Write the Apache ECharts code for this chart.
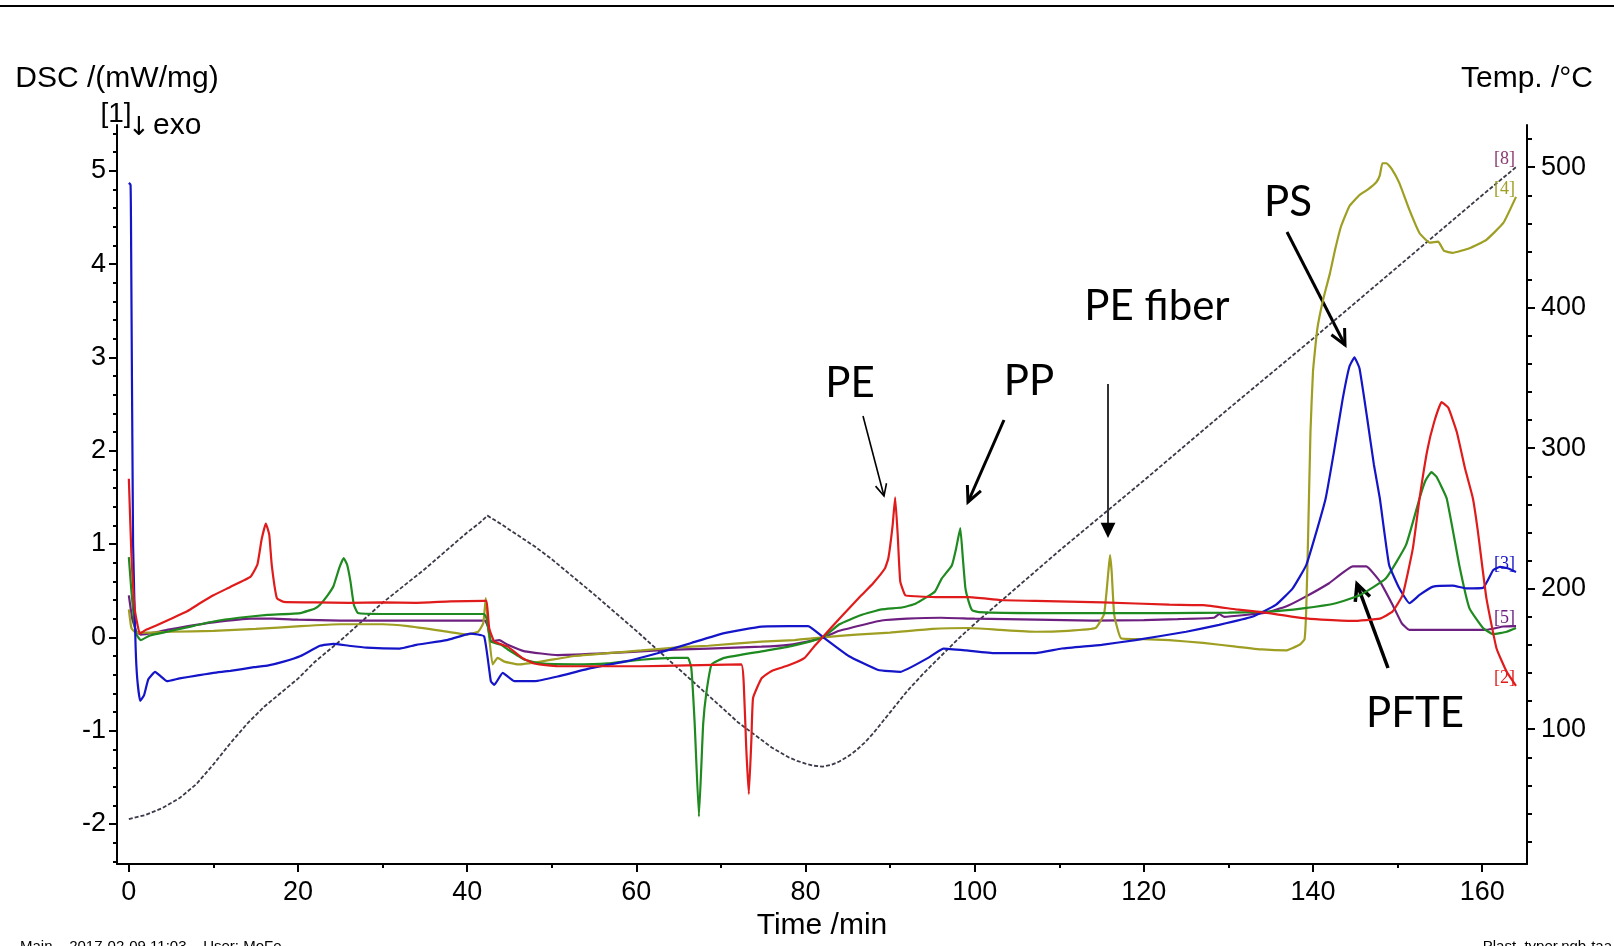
<!DOCTYPE html>
<html>
<head>
<meta charset="utf-8">
<title>DSC plastics</title>
<script src="https://cdn.jsdelivr.net/npm/echarts@6.0.0/dist/echarts.min.js"></script>
<style>
  html, body { margin: 0; padding: 0; background: #fff; }
  #chart { width: 1614px; height: 946px; }
</style>
</head>
<body>
<div id="chart"></div>
<script>
// axis ticks and labels
const timeLabels = [0, 20, 40, 60, 80, 100, 120, 140, 160]
const timeMinor = [10, 30, 50, 70, 90, 110, 130, 150]
const dscLabels = [-2, -1, 0, 1, 2, 3, 4, 5]
const tempLabels = [100, 200, 300, 400, 500]

const dscMinor = []
for (let i = -12; i <= 27; i++) if (i % 5 !== 0) dscMinor.push(Math.round(i * 2) / 10)
const tempMinor = []
for (let v = 20; v <= 520; v += 20) if (v % 100 !== 0) tempMinor.push(v)

// DSC curves, [time /min, DSC /(mW/mg)]
const sample2Red = [
  [0, 1.7], [0.3, 0.9], [0.7, 0.3], [1.3, 0.04], [2, 0.08], [3.3, 0.13], [5, 0.2], [6.9, 0.28],
  [8.5, 0.37], [10, 0.45], [12, 0.54], [14.4, 0.65], [15.2, 0.78], [15.7, 1.05], [16.2, 1.22],
  [16.6, 1.1], [16.9, 0.77], [17.5, 0.42], [18.3, 0.38], [22, 0.375], [26, 0.37], [30, 0.375],
  [34, 0.37], [38, 0.385], [42, 0.39], [42.3, 0.39], [42.6, 0.1], [43.2, -0.045], [44.8, -0.1],
  [46.5, -0.22], [47.9, -0.28], [50.7, -0.31], [55, -0.31], [60.6, -0.31], [66, -0.3], [72.4, -0.29],
  [72.7, -0.5], [73.0, -1.2], [73.3, -1.68], [73.6, -1.1], [73.8, -0.65], [74.8, -0.44], [76, -0.36],
  [78, -0.3], [79.9, -0.22], [81, -0.1], [82.1, 0.01], [84, 0.2], [86.6, 0.45], [88, 0.58],
  [89.4, 0.74], [89.8, 0.85], [90.3, 1.2], [90.6, 1.5], [90.9, 1.1], [91.2, 0.6], [91.8, 0.45],
  [93, 0.44], [96, 0.43], [99.3, 0.43], [103, 0.4], [107.2, 0.39], [115.1, 0.375], [123, 0.35],
  [127, 0.345], [130.9, 0.3], [134.8, 0.26], [138.8, 0.205], [141, 0.19], [144.7, 0.176],
  [147.9, 0.2], [149.4, 0.276], [150.6, 0.454], [151.8, 0.95], [152.6, 1.49], [153.5, 2.0],
  [154.3, 2.3], [155.2, 2.52], [156, 2.46], [157, 2.2], [158, 1.8], [158.9, 1.49], [159.5, 1.13],
  [160.5, 0.42], [161.7, -0.12], [162.9, -0.37], [164, -0.52]
]

const sampleGreen = [
  [0, 0.86], [0.3, 0.5], [0.8, 0.05], [1.4, -0.03], [2.5, 0.02], [4.5, 0.06], [7, 0.11], [10, 0.17],
  [13, 0.21], [16.4, 0.24], [20.3, 0.26], [22, 0.31], [22.6, 0.35], [23.5, 0.45], [24.2, 0.55],
  [24.9, 0.75], [25.4, 0.85], [25.8, 0.78], [26.2, 0.6], [26.6, 0.35], [27.1, 0.26], [30, 0.25],
  [35, 0.25], [40, 0.25], [42, 0.25], [42.3, 0.2], [42.8, -0.045], [44, -0.08], [44.8, -0.13],
  [46.8, -0.24], [48.7, -0.28], [52.7, -0.29], [56.6, -0.28], [60.6, -0.24], [64.5, -0.22],
  [66.1, -0.22], [66.5, -0.33], [66.9, -0.93], [67.4, -1.92], [67.9, -0.93], [68.3, -0.58],
  [68.9, -0.29], [70.4, -0.22], [74.8, -0.15], [78, -0.1], [80.7, -0.04], [82.1, 0.0], [84, 0.14],
  [86.6, 0.24], [89, 0.3], [91.4, 0.32], [93, 0.36], [95.3, 0.49], [96.1, 0.63], [97.3, 0.77],
  [97.8, 0.95], [98.3, 1.17], [98.6, 0.85], [98.9, 0.53], [99.3, 0.38], [99.7, 0.29], [100.5, 0.27],
  [107.2, 0.26], [115, 0.26], [123, 0.26], [130, 0.265], [134.8, 0.275], [138.8, 0.31],
  [142.7, 0.365], [145.5, 0.45], [148.6, 0.63], [151, 0.99], [152.6, 1.49], [153.3, 1.68],
  [154, 1.77], [154.6, 1.72], [155.8, 1.49], [157.3, 0.77], [158.5, 0.31], [160.1, 0.1],
  [161.3, 0.034], [162.9, 0.06], [164, 0.1]
]

const sample3Blue = [
  [0, 4.87], [0.2, 4.85], [0.25, 4.5], [0.5, 1.0], [0.8, -0.1], [1.0, -0.45], [1.34, -0.68],
  [1.8, -0.62], [2.3, -0.45], [3.1, -0.37], [3.8, -0.42], [4.5, -0.47], [6, -0.44], [8, -0.41],
  [10, -0.38], [12, -0.36], [14.8, -0.32], [16.5, -0.3], [18.3, -0.26], [20.3, -0.2], [22.6, -0.09],
  [24.2, -0.07], [26, -0.09], [28.1, -0.11], [32, -0.12], [34, -0.08], [37.6, -0.03], [40.4, 0.04],
  [42, 0.01], [42.8, -0.47], [43.2, -0.51], [44.2, -0.38], [45.6, -0.47], [48, -0.47], [50.7, -0.42],
  [54.6, -0.33], [58.6, -0.26], [62.5, -0.17], [66.5, -0.06], [70.4, 0.045], [74.8, 0.115],
  [78, 0.12], [80.3, 0.12], [82.1, 0.0], [85.1, -0.2], [88.6, -0.35], [91.2, -0.37], [94.5, -0.22],
  [96.3, -0.12], [99, -0.14], [102.4, -0.17], [107.2, -0.17], [110.3, -0.12], [115, -0.08],
  [119, -0.03], [125, 0.06], [128.9, 0.134], [132.8, 0.22], [135.6, 0.347], [137.6, 0.525],
  [139.2, 0.774], [140.4, 1.13], [141.5, 1.49], [142.5, 2.0], [143.5, 2.55], [144.3, 2.9],
  [144.9, 3.0], [145.5, 2.88], [146.4, 2.35], [147.2, 1.85], [147.9, 1.49], [149, 0.774],
  [150.2, 0.525], [151.4, 0.365], [152.6, 0.454], [154.2, 0.543], [156.5, 0.554], [158.1, 0.525],
  [160.1, 0.53], [161.3, 0.72], [162.1, 0.756], [163, 0.74], [164, 0.7]
]

const sample5Purple = [
  [0, 0.45], [0.4, 0.2], [0.9, 0.06], [1.4, 0.03], [3, 0.05], [4.5, 0.08], [7, 0.12], [10, 0.16],
  [14.4, 0.2], [17, 0.2], [20, 0.19], [25, 0.18], [30, 0.18], [35, 0.18], [40, 0.18], [42.1, 0.18],
  [42.5, 0.1], [42.8, -0.045], [43.8, -0.03], [44.8, -0.08], [46.8, -0.15], [50.7, -0.19],
  [56.6, -0.17], [62.5, -0.14], [68.5, -0.12], [74.8, -0.1], [78, -0.08], [80.5, -0.04], [82.1, 0.0],
  [84, 0.07], [86.6, 0.13], [89, 0.18], [92, 0.2], [96, 0.21], [100, 0.2], [107.2, 0.19], [114, 0.18],
  [120, 0.185], [124, 0.195], [128.3, 0.21], [128.9, 0.25], [129.5, 0.22], [134.4, 0.265],
  [136.8, 0.33], [138.8, 0.42], [141.9, 0.58], [144.7, 0.76], [146.3, 0.76], [147.9, 0.6],
  [149.4, 0.35], [150.5, 0.15], [151.4, 0.08], [155, 0.08], [160.5, 0.08], [162.5, 0.116], [164, 0.12]
]

const sample4Olive = [
  [0, 0.3], [0.3, 0.1], [0.8, 0.05], [2, 0.05], [5, 0.06], [10, 0.07], [15, 0.09], [20.3, 0.12],
  [25, 0.14], [30, 0.14], [33, 0.12], [37, 0.07], [40, 0.03], [41.3, 0.06], [41.9, 0.15], [42.2, 0.42],
  [42.5, 0.1], [43, -0.29], [43.6, -0.22], [44.4, -0.26], [46, -0.29], [48.7, -0.26], [52.7, -0.2],
  [56.6, -0.17], [60.6, -0.14], [64.5, -0.11], [68.5, -0.09], [74.8, -0.045], [78.7, -0.03],
  [82.1, 0.0], [86, 0.03], [90, 0.05], [95, 0.09], [99.3, 0.1], [103, 0.08], [107.2, 0.06], [111, 0.07],
  [114.3, 0.1], [115.3, 0.25], [115.8, 0.7], [116, 0.88], [116.2, 0.7], [116.5, 0.24], [117.3, -0.01],
  [120, -0.02], [123, -0.03], [127, -0.06], [130.9, -0.1], [134, -0.13], [136.8, -0.14], [138.4, -0.08],
  [139, -0.02], [139.2, 0.3], [139.4, 1.0], [139.7, 2.2], [140.0, 2.85], [140.5, 3.3], [141.2, 3.62],
  [142, 3.9], [142.6, 4.15], [143.3, 4.4], [144.3, 4.62], [145.5, 4.74], [146.5, 4.8], [147.5, 4.88],
  [147.9, 4.95], [148.2, 5.08], [148.7, 5.08], [149.3, 5.02], [150.2, 4.87], [151.4, 4.58],
  [152.6, 4.33], [153.8, 4.23], [154.8, 4.24], [155.5, 4.14], [156.5, 4.12], [158.5, 4.17],
  [160.5, 4.26], [162.5, 4.44], [164, 4.72]
]

// temperature program, [time /min, Temp. /°C]
const tempProgram = [
  [0, 36], [2, 39], [4, 44], [6, 51], [8, 61], [10, 75], [12, 90], [14, 104], [16, 116], [18, 126],
  [20, 136], [22, 148], [25, 163], [30, 190], [35, 214], [40, 240], [41.5, 247], [42.4, 252], [43.2, 249],
  [44, 246], [46, 238], [48, 230], [50, 221], [55, 196], [60, 170], [65, 143], [70, 116], [72, 105],
  [74, 96], [76, 87], [78, 80], [79, 77.5], [80, 75.5], [81, 74], [82, 73.4], [83, 74.5], [84, 77],
  [85, 80.5], [86, 85], [87, 90.5], [88, 97], [89, 104.5], [90, 112], [92, 127], [94, 140], [96, 152],
  [98, 164], [100, 175], [110, 227], [120, 277], [130, 328], [140, 378], [150, 429], [160, 480], [164, 500]
]

const chart = echarts.init(document.getElementById('chart'))

const baseFont = 'Liberation Sans, Arial, sans-serif'
const noteFont = '42px Lato, "Open Sans", sans-serif'

const dscSeries = (name, data, color, tag) => ({
  name,
  type: 'line',
  data,
  xAxisIndex: 0,
  yAxisIndex: 0,
  symbol: 'none',
  smooth: 0.12,
  lineStyle: { color, width: 2.2 },
  itemStyle: { color },
  endLabel: tag
    ? { show: true, formatter: tag, color, fontFamily: 'Liberation Serif', fontSize: 18, distance: 0, offset: [-22, -8] }
    : { show: false },
})

// arrow annotation helper (pixel layout)
const arrow = (x1, y1, x2, y2, w, head, filled) => {
  const a = Math.atan2(y2 - y1, x2 - x1)
  const s = 0.45
  const p1 = [x2 - head * Math.cos(a - s), y2 - head * Math.sin(a - s)]
  const p2 = [x2 - head * Math.cos(a + s), y2 - head * Math.sin(a + s)]
  const ex = filled ? x2 - head * 0.8 * Math.cos(a) : x2
  const ey = filled ? y2 - head * 0.8 * Math.sin(a) : y2
  const els = [{ type: 'line', shape: { x1, y1, x2: ex, y2: ey }, style: { stroke: '#000', lineWidth: w } }]
  if (filled) {
    els.push({ type: 'polygon', shape: { points: [[x2, y2], p1, p2] }, style: { fill: '#000' } })
  } else {
    els.push({ type: 'polyline', shape: { points: [p1, [x2, y2], p2] }, style: { stroke: '#000', lineWidth: w, fill: null } })
  }
  return els
}

const text = (x, y, str, font, align, vAlign) => ({
  type: 'text',
  x, y,
  style: { text: str, font, fill: '#000', align: align || 'center', verticalAlign: vAlign || 'middle', textAlign: align || 'center', textVerticalAlign: vAlign || 'middle' },
})

const option = {
  animation: false,
  backgroundColor: '#fff',
  grid: { left: 117, right: 87, top: 125, bottom: 79 },
  xAxis: [
    {
      type: 'value', min: -1.4, max: 165.3,
      name: 'Time /min', nameLocation: 'middle', nameGap: 45,
      nameTextStyle: { fontSize: 30, fontFamily: baseFont, color: '#000', verticalAlign: 'top' },
      axisLine: { onZero: false, lineStyle: { color: '#000', width: 2 } },
      axisTick: { customValues: timeLabels, length: 8, lineStyle: { color: '#000', width: 2 } },
      axisLabel: { customValues: timeLabels, fontSize: 27, fontFamily: baseFont, color: '#000', margin: 15 },
      splitLine: { show: false },
    },
    {
      type: 'value', min: -1.4, max: 165.3, position: 'bottom',
      axisLine: { show: false, onZero: false },
      axisTick: { customValues: timeMinor, length: 4, lineStyle: { color: '#000', width: 2 } },
      axisLabel: { show: false },
      splitLine: { show: false },
    },
  ],
  yAxis: [
    {
      type: 'value', min: -2.43, max: 5.49, position: 'left',
      name: 'DSC /(mW/mg)', nameLocation: 'end', nameGap: 31,
      nameTextStyle: { fontSize: 30, fontFamily: baseFont, color: '#000', align: 'center' },
      axisLine: { show: true, onZero: false, lineStyle: { color: '#000', width: 2 } },
      axisTick: { show: true, customValues: dscLabels, length: 8, lineStyle: { color: '#000', width: 2 } },
      axisLabel: { customValues: dscLabels, fontSize: 27, fontFamily: baseFont, color: '#000', margin: 11 },
      splitLine: { show: false },
    },
    {
      type: 'value', min: 4, max: 530, position: 'right',
      name: 'Temp. /°C', nameLocation: 'end', nameGap: 31,
      nameTextStyle: { fontSize: 30, fontFamily: baseFont, color: '#000', align: 'center' },
      axisLine: { show: true, onZero: false, lineStyle: { color: '#000', width: 2 } },
      axisTick: { show: true, customValues: tempLabels, length: 8, lineStyle: { color: '#000', width: 2 } },
      axisLabel: { customValues: tempLabels, fontSize: 27, fontFamily: baseFont, color: '#000', margin: 14 },
      splitLine: { show: false },
    },
    {
      type: 'value', min: -2.43, max: 5.49, position: 'left',
      axisLine: { show: false, onZero: false },
      axisTick: { show: true, customValues: dscMinor, length: 4, lineStyle: { color: '#000', width: 2 } },
      axisLabel: { show: false },
      splitLine: { show: false },
    },
    {
      type: 'value', min: 4, max: 530, position: 'right',
      axisLine: { show: false, onZero: false },
      axisTick: { show: true, customValues: tempMinor, length: 5, lineStyle: { color: '#000', width: 2 } },
      axisLabel: { show: false },
      splitLine: { show: false },
    },
  ],
  series: [
    {
      name: 'Temp.',
      type: 'line',
      data: tempProgram,
      xAxisIndex: 0,
      yAxisIndex: 1,
      symbol: 'none',
      lineStyle: { color: '#3a3a48', width: 1.8, type: [4, 2] },
      itemStyle: { color: '#3a3a48' },
      endLabel: { show: true, formatter: '[8]', color: '#8a3a6e', fontFamily: 'Liberation Serif', fontSize: 18, distance: 0, offset: [-22, -8] },
    },
    dscSeries('[5]', sample5Purple, '#6e2080', '[5]'),
    dscSeries('[4]', sample4Olive, '#9e9e22', '[4]'),
    dscSeries('green', sampleGreen, '#1f8a1f', null),
    dscSeries('[3]', sample3Blue, '#1414c8', '[3]'),
    dscSeries('[2]', sample2Red, '#e01b1b', '[2]'),
  ],
  graphic: [
    { type: 'line', shape: { x1: 0, y1: 6, x2: 1614, y2: 6 }, style: { stroke: '#000', lineWidth: 2 } },
    text(116, 114, '[1]', '28px ' + baseFont),
    text(139, 128, '↓', '26px DejaVu Sans, sans-serif'),
    text(153, 126, 'exo', '30px ' + baseFont, 'left'),
    text(20, 939, 'Main    2017-02-09 11:03    User: MoFe', '15px ' + baseFont, 'left', 'top'),
    text(1612, 939, 'Plast_typer.ngb-taa', '15px ' + baseFont, 'right', 'top'),
    text(850, 383, 'PE', noteFont),
    text(1029, 381, 'PP', noteFont),
    text(1157, 306, 'PE fiber', noteFont),
    text(1288, 202, 'PS', noteFont),
    text(1415, 713, 'PFTE', noteFont),
    ...arrow(863, 416, 884, 496, 1.6, 13, false),
    ...arrow(1004, 420, 968, 502, 3, 17, false),
    ...arrow(1108, 384, 1108, 538, 1.6, 17, true),
    ...arrow(1287, 232, 1345, 345, 3, 17, false),
    ...arrow(1388, 668, 1357, 584, 3.5, 18, false),
  ],
}

chart.setOption(option)
</script>
</body>
</html>
